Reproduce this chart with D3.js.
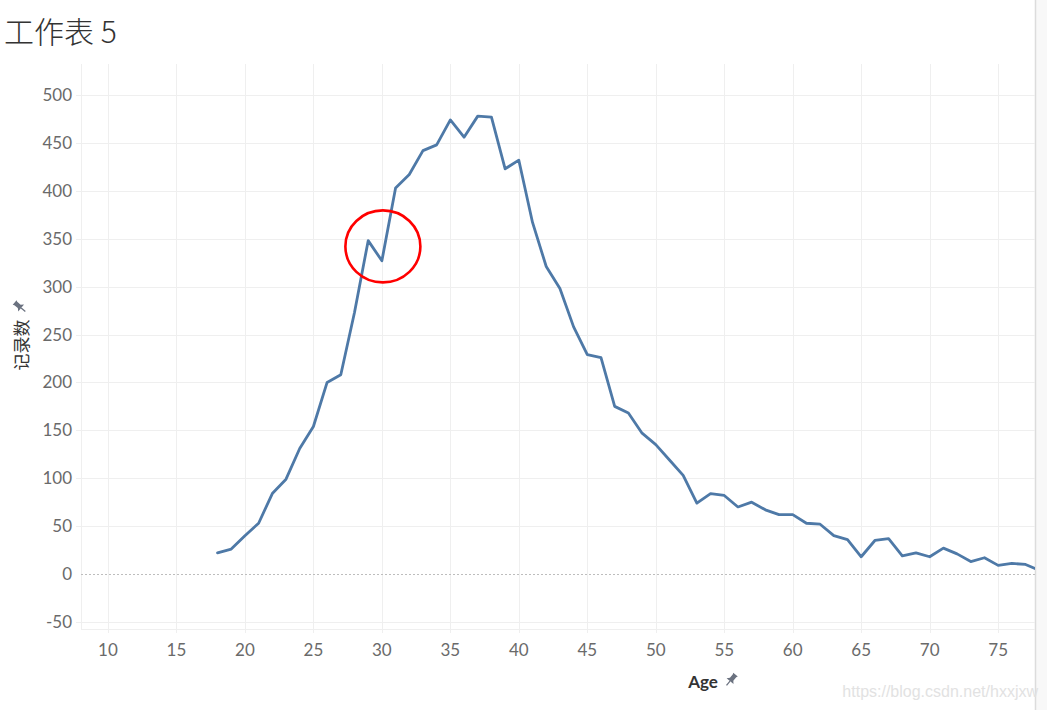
<!DOCTYPE html>
<html><head><meta charset="utf-8">
<script src="https://cdn.jsdelivr.net/npm/d3@7"></script>
<style>
html,body{margin:0;padding:0;background:#fff;overflow:hidden}
svg{display:block}
</style></head>
<body>
<svg id="chart" width="1047" height="710"></svg>
<script>
const ages = [18,19,20,21,22,23,24,25,26,27,28,29,30,31,32,33,34,35,36,37,38,39,40,41,42,43,44,45,46,47,48,49,50,51,52,53,54,55,56,57,58,59,60,61,62,63,64,65,66,67,68,69,70,71,72,73,74,75,76,77,78];
const counts = [22,26,40,53,84,99,131,154,200,208,273,348,327,403,417,442,448,474,456,478,477,423,432,367,321,298,258,229,226,175,168,147,135,119,103,74,84,82,70,75,67,62,62,53,52,40,36,18,35,37,19,22,18,27,21,13,17,9,11,10,4];
const xTicks = [10,15,20,25,30,35,40,45,50,55,60,65,70,75];
const yTicks = [-50,0,50,100,150,200,250,300,350,400,450,500];
const title = "工作表 5";
const xTitle = "Age";
const yTitle = "记录数";
const watermark = "https://blog.csdn.net/hxxjxw";
const highlight = {age: 30, count: 342};

const svg = d3.select("#chart");
const L = 81, R = 1035, T = 64, B = 629;
const x = d3.scaleLinear().domain([8.03, 77.69]).range([L, R]);
const y = d3.scaleLinear().domain([-57.4, 532.4]).range([B, T]);
const font = "Lato, 'Open Sans', sans-serif";

// right strip
svg.append("rect").attr("x", 1036).attr("y", 0).attr("width", 11).attr("height", 710).attr("fill", "#f8f8f8");
svg.append("line").attr("x1", 1035.5).attr("x2", 1035.5).attr("y1", 0).attr("y2", 710).attr("stroke", "#dcdcdc").attr("stroke-width", 1.5);

// title
svg.append("text").attr("x", 4).attr("y", 43).attr("font-family", "'Noto Sans CJK SC', sans-serif")
  .attr("font-size", 30).attr("font-weight", 300).attr("fill", "#333").text(title);

// grid
const g = svg.append("g");
g.selectAll("line.hg").data(yTicks).join("line")
  .attr("x1", L - 5).attr("x2", R).attr("y1", d => Math.round(y(d)) + 0.5).attr("y2", d => Math.round(y(d)) + 0.5)
  .attr("stroke", d => d === 0 ? "none" : "#efefef").attr("stroke-width", 1);
g.selectAll("line.vg").data(xTicks).join("line")
  .attr("x1", d => Math.round(x(d)) + 0.5).attr("x2", d => Math.round(x(d)) + 0.5).attr("y1", T).attr("y2", B + 4)
  .attr("stroke", "#efefef").attr("stroke-width", 1);
g.append("line").attr("x1", L + 0.5).attr("x2", L + 0.5).attr("y1", T).attr("y2", B).attr("stroke", "#efefef");
g.append("line").attr("x1", L).attr("x2", R).attr("y1", B + 0.5).attr("y2", B + 0.5).attr("stroke", "#efefef");
// zero line
g.append("line").attr("x1", L).attr("x2", R).attr("y1", Math.round(y(0)) + 0.5).attr("y2", Math.round(y(0)) + 0.5)
  .attr("stroke", "#bdbdbd").attr("stroke-dasharray", "2,2").attr("stroke-width", 1);

// y labels
svg.selectAll("text.yl").data(yTicks).join("text")
  .attr("x", 72).attr("y", d => y(d) + 6).attr("text-anchor", "end")
  .attr("font-family", font).attr("font-size", 17).attr("fill", "#6a6a6a").text(d => d);
// x labels
svg.selectAll("text.xl").data(xTicks).join("text")
  .attr("x", d => x(d)).attr("y", 656).attr("text-anchor", "middle")
  .attr("font-family", font).attr("font-size", 17).attr("fill", "#6a6a6a").text(d => d);

// pin icon
function pin(px, py, rot) {
  const p = svg.append("g").attr("transform", `translate(${px},${py}) rotate(${rot})`);
  p.append("path").attr("d", "M-3,-7 L3,-7 L2.2,-5.5 L2.2,-1 L4.5,1.5 L-4.5,1.5 L-2.2,-1 L-2.2,-5.5 Z").attr("fill", "#6b7280");
  p.append("line").attr("x1", 0).attr("x2", 0).attr("y1", 1.5).attr("y2", 7).attr("stroke", "#6b7280").attr("stroke-width", 1.3);
}
// x title
svg.append("text").attr("x", 703).attr("y", 688).attr("text-anchor", "middle").attr("font-family", font)
  .attr("font-size", 17).attr("font-weight", 700).attr("fill", "#333").text(xTitle);
pin(731, 680, 40);
// y title
svg.append("text").attr("transform", "translate(28,345) rotate(-90)").attr("text-anchor", "middle")
  .attr("font-family", "'Noto Sans CJK SC', sans-serif").attr("font-size", 17).attr("fill", "#333").text(yTitle);
pin(20, 307, -50);

// line
svg.append("clipPath").attr("id", "clip").append("rect").attr("x", L).attr("y", T).attr("width", R - L).attr("height", B - T);
const line = d3.line().x((d, i) => x(ages[i])).y(d => y(d));
svg.append("path").datum(counts).attr("clip-path", "url(#clip)")
  .attr("d", line).attr("fill", "none").attr("stroke", "#4e79a7").attr("stroke-width", 2.8)
  .attr("stroke-linejoin", "round").attr("stroke-linecap", "round");

// annotation circle
svg.append("ellipse").attr("cx", x(highlight.age) + 1).attr("cy", y(highlight.count)).attr("rx", 37.5).attr("ry", 36)
  .attr("fill", "none").attr("stroke", "#ff0000").attr("stroke-width", 2.6);

// watermark
svg.append("text").attr("x", 1038).attr("y", 697).attr("text-anchor", "end")
  .attr("font-family", "'Liberation Sans', Arial, sans-serif").attr("font-size", 16).attr("fill", "#e2e2e2").text(watermark);
</script>
</body></html>
